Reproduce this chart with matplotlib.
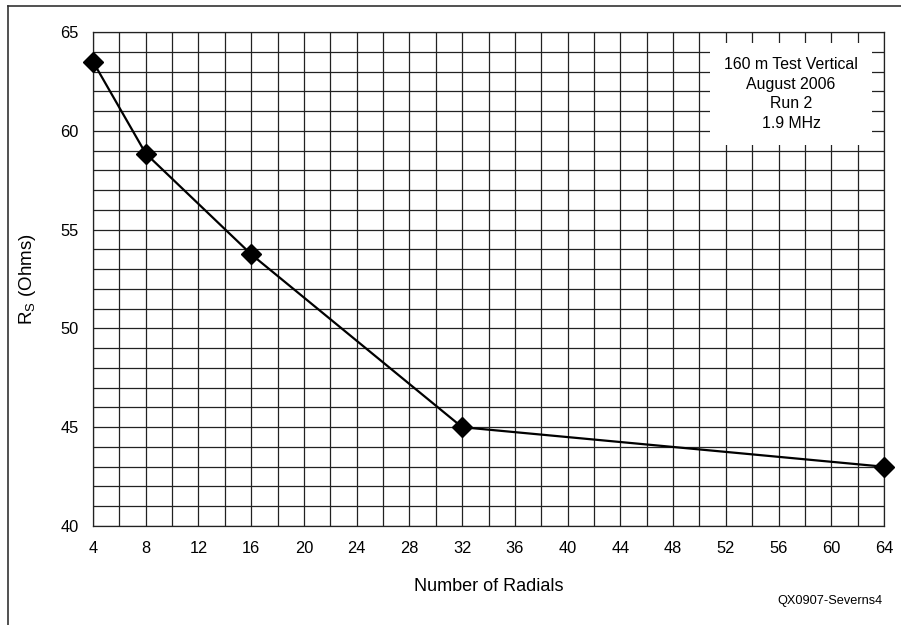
import matplotlib
matplotlib.use("Agg")
import matplotlib.pyplot as plt
from matplotlib.lines import Line2D
import numpy as np

radials = [4, 8, 16, 32, 64]
rs_ohms = [63.5, 58.85, 53.75, 45.0, 43.0]
x_ticks = list(range(4, 65, 4))
y_ticks = [40, 45, 50, 55, 60, 65]

plt.rcParams['font.family'] = ['Liberation Sans', 'DejaVu Sans']

fig = plt.figure(figsize=(9.01, 6.25), dpi=100)
ax = fig.add_axes([93/901, 1 - 526/625, (884-93)/901, (526-32)/625])

ax.set_xlim(4, 64)
ax.set_ylim(40, 65)
ax.set_xticks(x_ticks)
ax.set_yticks(y_ticks)
ax.set_xticks(np.arange(4, 65, 2), minor=True)
ax.set_yticks(np.arange(40, 66, 1), minor=True)
ax.grid(True, which='both', color='#222222', linewidth=0.9)
ax.set_axisbelow(True)
ax.tick_params(which='both', length=0, labelsize=11.8, pad=10.5)
for s in ax.spines.values():
    s.set_color('#222222')
    s.set_linewidth(0.9)

ax.plot(radials, rs_ohms, color='black', linewidth=1.6, marker='D',
        markersize=10, zorder=5, clip_on=False)

ax.set_xlabel('Number of Radials', fontsize=13, labelpad=16)
ax.set_ylabel('R$_\\mathregular{S}$ (Ohms)', fontsize=13.5, labelpad=16)

ax.text(791/901, 1 - 94/625, '160 m Test Vertical\nAugust 2006\nRun 2\n1.9 MHz',
        transform=fig.transFigure, ha='center', va='center', fontsize=11.4,
        linespacing=1.4, zorder=10,
        bbox=dict(boxstyle='square,pad=0.9', facecolor='white', edgecolor='none'))

fig.text(883/901, 1 - 601/625, 'QX0907-Severns4', ha='right', va='center', fontsize=9.2)

fig.add_artist(Line2D([8/901, 1], [1 - 6/625, 1 - 6/625], transform=fig.transFigure,
                      color='#333333', linewidth=1.2))
fig.add_artist(Line2D([8/901, 8/901], [0, 1 - 6/625], transform=fig.transFigure,
                      color='#333333', linewidth=1.2))

fig.savefig('out.png', dpi=100)
